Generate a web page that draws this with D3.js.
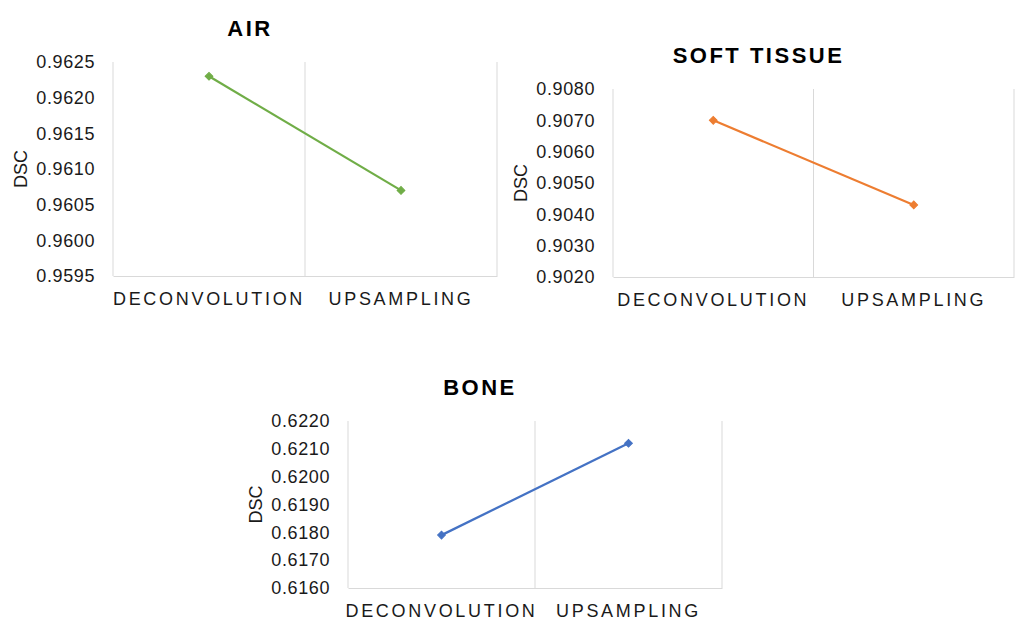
<!DOCTYPE html>
<html>
<head>
<meta charset="utf-8">
<script src="https://cdn.jsdelivr.net/npm/d3@7"></script>
<style>
  html, body { margin: 0; padding: 0; background: #fff; }
  svg { display: block; font-family: "Liberation Sans", Arial, sans-serif; }
</style>
</head>
<body>
<svg id="chart" width="1015" height="619"></svg>
<script>
// Dice similarity coefficient per tissue class, deconvolution vs upsampling decoders
const categories = ["DECONVOLUTION", "UPSAMPLING"];

const airValues = [0.9623, 0.9607];
const softTissueValues = [0.9070, 0.9043];
const boneValues = [0.6179, 0.6212];

const airTicks = [0.9595, 0.9600, 0.9605, 0.9610, 0.9615, 0.9620, 0.9625];
const softTissueTicks = [0.9020, 0.9030, 0.9040, 0.9050, 0.9060, 0.9070, 0.9080];
const boneTicks = [0.6160, 0.6170, 0.6180, 0.6190, 0.6200, 0.6210, 0.6220];

const panels = [
  { title: "AIR", values: airValues, ticks: airTicks, color: "#70ad47",
    left: 113, right: 497, top: 62, bottom: 276 },
  { title: "SOFT TISSUE", values: softTissueValues, ticks: softTissueTicks, color: "#ed7d31",
    left: 613, right: 1014, top: 89, bottom: 277 },
  { title: "BONE", values: boneValues, ticks: boneTicks, color: "#4472c4",
    left: 348, right: 722, top: 421, bottom: 588 }
];

const svg = d3.select("#chart");
const gridColor = "#d9d9d9";
const textColor = "#1a1a1a";

panels.forEach(p => {
  const g = svg.append("g");

  const x = d3.scaleBand().domain(categories).range([p.left, p.right]).padding(0);
  const y = d3.scaleLinear().domain(d3.extent(p.ticks)).range([p.bottom, p.top]);

  // vertical gridlines at category boundaries
  const edges = [p.left, ...categories.map(c => x(c) + x.bandwidth())];
  g.selectAll("line.grid").data(edges).join("line")
    .attr("class", "grid")
    .attr("x1", d => d).attr("x2", d => d)
    .attr("y1", p.top).attr("y2", p.bottom)
    .attr("stroke", gridColor).attr("stroke-width", 1);

  // y axis labels
  const yAxis = g.append("g")
    .attr("transform", `translate(${p.left},0)`)
    .call(d3.axisLeft(y).tickValues(p.ticks).tickFormat(d3.format(".4f")).tickSize(0).tickPadding(18));
  yAxis.select(".domain").remove();
  yAxis.selectAll("text")
    .attr("fill", textColor)
    .style("font-size", "18px")
    .style("letter-spacing", "0.6px");

  // x axis
  const xAxis = g.append("g")
    .attr("transform", `translate(0,${p.bottom})`)
    .call(d3.axisBottom(x).tickSize(0).tickPadding(16));
  xAxis.select(".domain").attr("stroke", gridColor).attr("stroke-width", 1.2);
  xAxis.selectAll("text")
    .attr("fill", textColor)
    .style("font-size", "18px")
    .style("letter-spacing", "2.7px");

  // y axis title
  g.append("text")
    .attr("transform", `translate(${p.left - 86},${(p.top + p.bottom) / 2}) rotate(-90)`)
    .attr("text-anchor", "middle")
    .attr("fill", textColor)
    .style("font-size", "18px")
    .text("DSC");

  // chart title
  g.append("text")
    .attr("x", (p.left + p.right) / 2 - 55)
    .attr("y", p.top - 26)
    .attr("text-anchor", "middle")
    .attr("fill", "#000")
    .style("font-size", "22px")
    .style("font-weight", "bold")
    .style("letter-spacing", "2.5px")
    .text(p.title);

  // series line
  const cx = c => x(c) + x.bandwidth() / 2;
  const line = d3.line().x((d, i) => cx(categories[i])).y(d => y(d));
  g.append("path")
    .datum(p.values)
    .attr("d", line)
    .attr("fill", "none")
    .attr("stroke", p.color)
    .attr("stroke-width", 2.25);

  // diamond markers (square turned 45 degrees)
  g.selectAll("path.marker").data(p.values).join("path")
    .attr("class", "marker")
    .attr("d", d3.symbol().type(d3.symbolSquare).size(30))
    .attr("transform", (d, i) => `translate(${cx(categories[i])},${y(d)}) rotate(45)`)
    .attr("fill", p.color)
    .attr("stroke", p.color)
    .attr("stroke-width", 1);
});
</script>
</body>
</html>
